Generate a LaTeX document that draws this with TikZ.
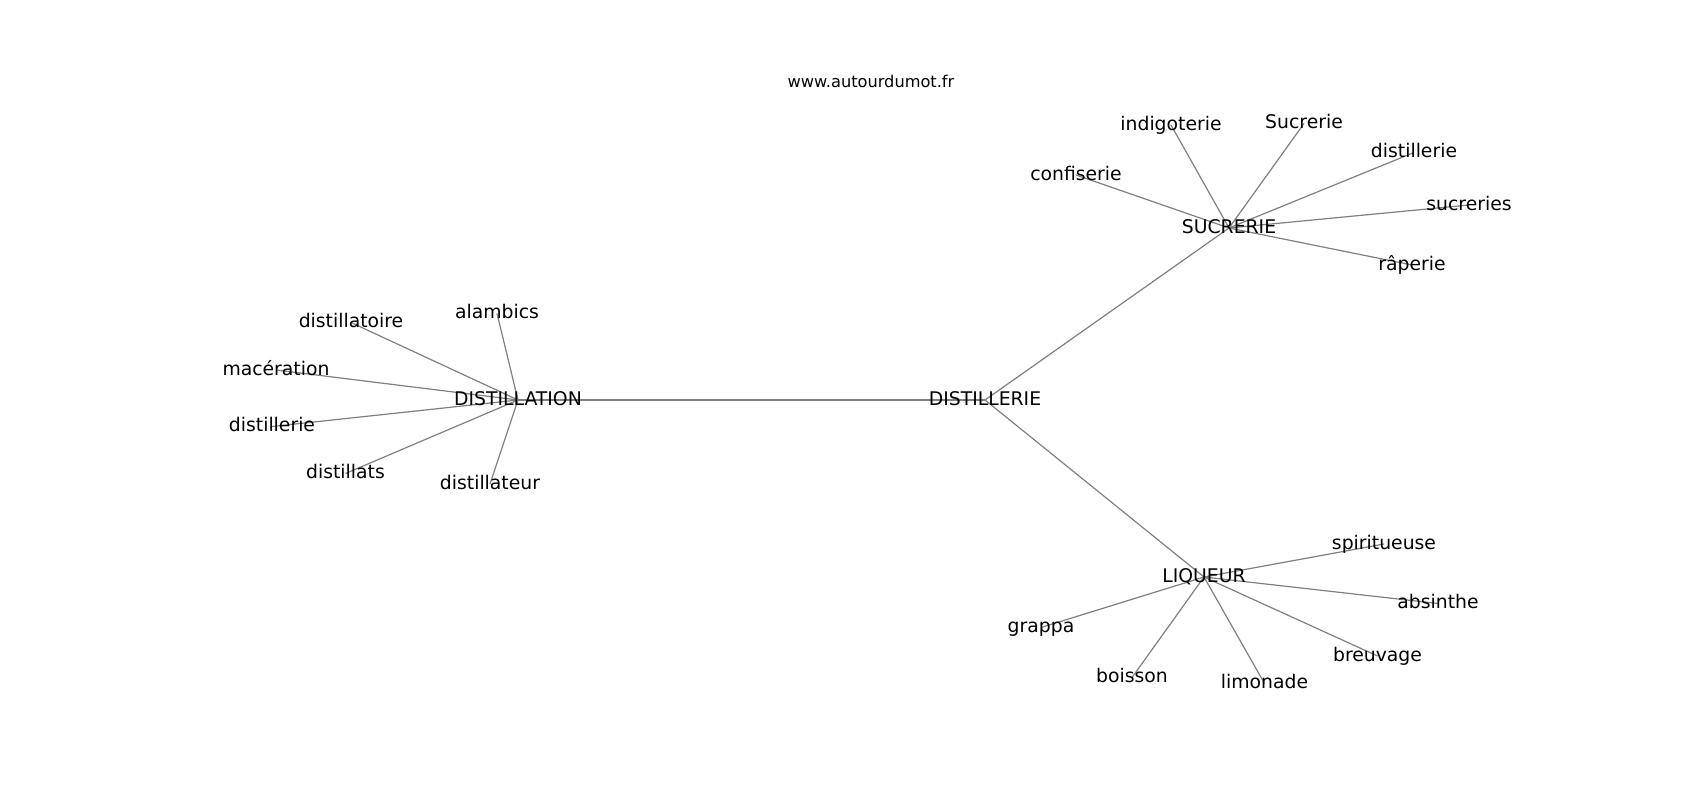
\documentclass[tikz,border=0pt]{standalone}
\usepackage{fontspec}
\setmainfont{DejaVu Sans}
\usetikzlibrary{backgrounds}
\definecolor{edgegray}{RGB}{128,128,128}
\tikzset{
  word/.style={inner sep=0pt, text height=1.2em, text depth=0.14em, anchor=center, font=\fontsize{18.8pt}{20pt}\selectfont, text=black},
  title/.style={inner sep=0pt, text height=1.2em, text depth=0.14em, anchor=center, font=\fontsize{16.2pt}{18pt}\selectfont, text=black},
  edge/.style={draw=edgegray, line width=1.2pt}
}
\begin{document}
\begin{tikzpicture}[x=1pt,y=-1pt]
\useasboundingbox (0,0) rectangle (1700,800);
\node[title] (site) at (871,82.6) {www.autourdumot.fr};
% hubs
\node[word] (distillerie) at (985,400) {DISTILLERIE};
\node[word] (distillation) at (518,400) {DISTILLATION};
\node[word] (sucrerie) at (1229,228) {SUCRERIE};
\node[word] (liqueur) at (1204,577) {LIQUEUR};
% distillation leaves
\node[word] (alambics) at (497,313.5) {alambics};
\node[word] (distillatoire) at (351,322.5) {distillatoire};
\node[word] (maceration) at (276,370) {macération};
\node[word] (distillerieA) at (272,426.5) {distillerie};
\node[word] (distillats) at (345.5,473.5) {distillats};
\node[word] (distillateur) at (490,484) {distillateur};
% sucrerie leaves
\node[word] (confiserie) at (1076,175) {confiserie};
\node[word] (indigoterie) at (1171,125) {indigoterie};
\node[word] (sucrerieB) at (1304,123.5) {Sucrerie};
\node[word] (distillerieB) at (1414,152.5) {distillerie};
\node[word] (sucreries) at (1469,205) {sucreries};
\node[word] (raperie) at (1412,265) {râperie};
% liqueur leaves
\node[word] (spiritueuse) at (1384,544) {spiritueuse};
\node[word] (absinthe) at (1438,603.5) {absinthe};
\node[word] (breuvage) at (1377.5,656) {breuvage};
\node[word] (limonade) at (1264.5,683.5) {limonade};
\node[word] (boisson) at (1132,677.5) {boisson};
\node[word] (grappa) at (1041,627.5) {grappa};
\begin{scope}[on background layer]
\fill[white] (0,0) rectangle (1700,800);
\foreach \a/\b in {distillerie/distillation, distillerie/sucrerie, distillerie/liqueur,
  distillation/alambics, distillation/distillatoire, distillation/maceration,
  distillation/distillerieA, distillation/distillats, distillation/distillateur,
  sucrerie/confiserie, sucrerie/indigoterie, sucrerie/sucrerieB,
  sucrerie/distillerieB, sucrerie/sucreries, sucrerie/raperie,
  liqueur/spiritueuse, liqueur/absinthe, liqueur/breuvage,
  liqueur/limonade, liqueur/boisson, liqueur/grappa}
  \draw[edge] (\a.center) -- (\b.center);
\end{scope}
\end{tikzpicture}
\end{document}
